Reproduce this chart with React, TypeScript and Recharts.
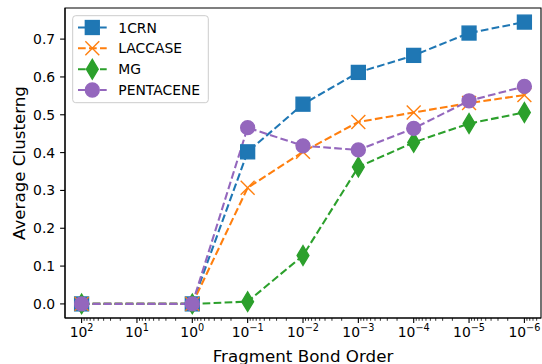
import React from "react"
import { LineChart, Line, XAxis, YAxis, Label, ReferenceArea } from "recharts"

// bond order cut-offs (x) and average clustering per molecule
const bondOrder = [1e2, 1e0, 1e-1, 1e-2, 1e-3, 1e-4, 1e-5, 1e-6]
const crn = [0, 0, 0.402, 0.528, 0.612, 0.657, 0.716, 0.745]
const laccase = [0, 0, 0.307, 0.402, 0.481, 0.506, 0.531, 0.552]
const mg = [0, 0, 0.006, 0.128, 0.362, 0.427, 0.477, 0.506]
const pentacene = [0, 0, 0.466, 0.418, 0.407, 0.464, 0.537, 0.575]

const majorTicks = [1e2, 1e1, 1e0, 1e-1, 1e-2, 1e-3, 1e-4, 1e-5, 1e-6]
const yTicks = [0, 0.1, 0.2, 0.3, 0.4, 0.5, 0.6, 0.7]

const X_DOMAIN = [Math.pow(10, -6.3), Math.pow(10, 2.3)]
const Y_DOMAIN = [-0.03725, 0.78225]

// log minor ticks 2..9 x 10^k inside the domain
const minorTicks: number[] = []
for (let k = -7; k <= 2; k++) {
    for (let m = 2; m <= 9; m++) {
        const v = m * Math.pow(10, k)
        if (v > X_DOMAIN[0] && v < X_DOMAIN[1]) minorTicks.push(v)
    }
}
const allTicks = [...majorTicks, ...minorTicks]

const data = bondOrder.map((b, i) => ({
    bond: b,
    crn: crn[i],
    laccase: laccase[i],
    mg: mg[i],
    pentacene: pentacene[i],
}))

const FONT = "DejaVu Sans, sans-serif"
const DASH = "7.7 3.3"
const LW = 2.08

type Shape = "square" | "x" | "thin_diamond" | "circle"

const series: { key: string; name: string; color: string; shape: Shape }[] = [
    { key: "crn", name: "1CRN", color: "#1f77b4", shape: "square" },
    { key: "laccase", name: "LACCASE", color: "#ff7f0e", shape: "x" },
    { key: "mg", name: "MG", color: "#2ca02c", shape: "thin_diamond" },
    { key: "pentacene", name: "PENTACENE", color: "#9467bd", shape: "circle" },
]

function Marker({ cx, cy, shape, color }: { cx: number; cy: number; shape: Shape; color: string }) {
    if (cx == null || cy == null) return null
    const s = 13.9
    if (shape === "square") {
        return <rect x={cx - s / 2} y={cy - s / 2} width={s} height={s} fill={color} stroke={color} strokeWidth={1.39} />
    }
    if (shape === "circle") {
        return <circle cx={cx} cy={cy} r={s / 2} fill={color} stroke={color} strokeWidth={1.39} />
    }
    if (shape === "thin_diamond") {
        const h = (s * Math.SQRT2) / 2
        const w = h * 0.6
        return (
            <polygon
                points={`${cx},${cy - h} ${cx + w},${cy} ${cx},${cy + h} ${cx - w},${cy}`}
                fill={color}
                stroke={color}
                strokeWidth={1.39}
            />
        )
    }
    const r = s / 2
    return (
        <g stroke={color} strokeWidth={1.39}>
            <line x1={cx - r} y1={cy - r} x2={cx + r} y2={cy + r} />
            <line x1={cx - r} y1={cy + r} x2={cx + r} y2={cy - r} />
        </g>
    )
}

function BondTick(props: any) {
    const { x, y, payload } = props
    const v = payload.value
    const lg = Math.log10(v)
    const e = Math.round(lg)
    const major = Math.abs(lg - e) < 1e-6
    if (!major) {
        return <line x1={x} x2={x} y1={y} y2={y + 2.8} stroke="#000" strokeWidth={0.8} />
    }
    const exp = e < 0 ? "\u2212" + -e : String(e)
    return (
        <g>
            <line x1={x} x2={x} y1={y} y2={y + 4.9} stroke="#000" strokeWidth={1.1} />
            <text x={x} y={y + 19} textAnchor="middle" fontSize={13.9} fontFamily={FONT} fill="#000">
                10
                <tspan dy={-6} fontSize={9.7}>
                    {exp}
                </tspan>
            </text>
        </g>
    )
}

function LegendBox() {
    const rows = [27.5, 48.3, 69.2, 90]
    return (
        <svg width={542} height={364} style={{ position: "absolute", left: 0, top: 0, pointerEvents: "none" }}>
            <rect x={72.7} y={15.7} width={135.6} height={87} rx={3} fill="#fff" fillOpacity={0.8} stroke="#cccccc" strokeWidth={1} />
            {series.map((s, i) => (
                <g key={s.key}>
                    <line x1={78} x2={106.7} y1={rows[i]} y2={rows[i]} stroke={s.color} strokeWidth={LW} strokeDasharray={DASH} />
                    <Marker cx={92.3} cy={rows[i]} shape={s.shape} color={s.color} />
                    <text x={118.3} y={rows[i] + 5} fontSize={13.9} fontFamily={FONT} fill="#000">
                        {s.name}
                    </text>
                </g>
            ))}
        </svg>
    )
}

export default function App() {
    return (
        <div style={{ position: "relative", width: 542, height: 364, background: "#fff" }}>
            <style>{`body{margin:0}`}</style>
            <LineChart width={542} height={364} data={data} margin={{ top: 8, right: 1, bottom: 0, left: 0 }}>
                <XAxis
                    dataKey="bond"
                    type="number"
                    scale="log"
                    domain={X_DOMAIN}
                    allowDataOverflow
                    reversed
                    ticks={allTicks}
                    interval={0}
                    tick={<BondTick />}
                    tickSize={0}
                    tickMargin={0}
                    tickLine={false}
                    height={46}
                    stroke="#000"
                    axisLine={{ stroke: "#000", strokeWidth: 1.1 }}
                >
                    <Label
                        content={() => (
                            <text x={303} y={361.5} textAnchor="middle" fontSize={16.7} fontFamily={FONT} fill="#000">
                                Fragment Bond Order
                            </text>
                        )}
                    />
                </XAxis>
                <YAxis
                    type="number"
                    domain={Y_DOMAIN}
                    allowDataOverflow
                    ticks={yTicks}
                    interval={0}
                    width={65}
                    tickSize={4.9}
                    tickMargin={4.9}
                    tickFormatter={(v: number) => v.toFixed(1)}
                    tick={{ fill: "#000", fontSize: 13.9, fontFamily: FONT }}
                    stroke="#000"
                    tickLine={{ stroke: "#000", strokeWidth: 1.1 }}
                    axisLine={{ stroke: "#000", strokeWidth: 1.1 }}
                >
                    <Label
                        content={() => (
                            <text
                                x={25}
                                y={163}
                                transform="rotate(-90, 25, 163)"
                                textAnchor="middle"
                                fontSize={16.7}
                                fontFamily={FONT}
                                fill="#000"
                            >
                                Average Clusterng
                            </text>
                        )}
                    />
                </YAxis>
                {/* axes frame (top/right spines) */}
                <ReferenceArea
                    x1={X_DOMAIN[1]}
                    x2={X_DOMAIN[0]}
                    y1={Y_DOMAIN[0]}
                    y2={Y_DOMAIN[1]}
                    ifOverflow="extendDomain"
                    fill="none"
                    fillOpacity={0}
                    stroke="#000"
                    strokeWidth={1.1}
                    strokeOpacity={1}
                />
                {series.map((s) => (
                    <Line
                        key={s.key}
                        dataKey={s.key}
                        name={s.name}
                        type="linear"
                        stroke={s.color}
                        strokeWidth={LW}
                        strokeDasharray={DASH}
                        isAnimationActive={false}
                        activeDot={false}
                        dot={(p: any) => <Marker key={`${s.key}-${p.index}`} cx={p.cx} cy={p.cy} shape={s.shape} color={s.color} />}
                    />
                ))}
            </LineChart>
            <LegendBox />
        </div>
    )
}
